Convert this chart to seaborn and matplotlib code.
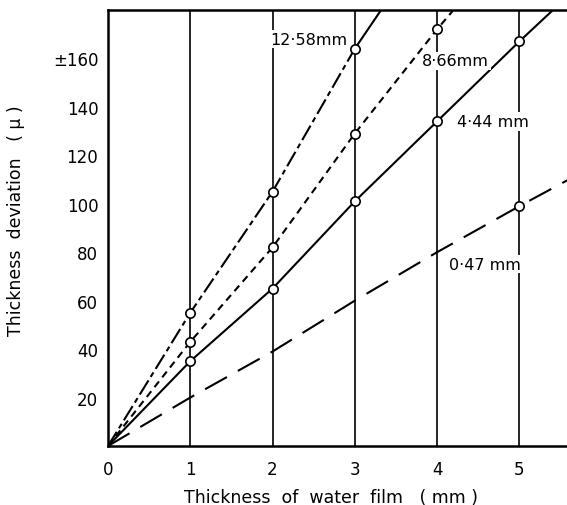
import matplotlib
matplotlib.use("Agg")
import matplotlib.pyplot as plt
import seaborn as sns
import pandas as pd

# ---- data ----
# 12.58 mm film series
x_1258 = [0, 1, 2, 3]
y_1258 = [0, 55, 105, 164]
x_1258_end = [3, 3.32]
y_1258_end = [164, 180]
# 8.66 mm
x_866 = [0, 1, 2, 3, 4, 4.2]
y_866 = [0, 43, 82, 129, 172, 180]
# 4.44 mm
x_444 = [0, 1, 2, 3, 4, 5, 5.41]
y_444 = [0, 35, 65, 101, 134, 167, 180]
# 0.47 mm
x_047 = [0, 1, 2, 3, 4, 5, 5.6]
y_047 = [0, 20, 39, 60, 80, 99, 110]

# measured (circled) points
mk_x = [1, 2, 3, 1, 2, 3, 4, 1, 2, 3, 4, 5, 5]
mk_y = [55, 105, 164, 43, 82, 129, 172, 35, 65, 101, 134, 167, 99]

series_labels = ["12\u00b758mm", "8\u00b766mm", "4\u00b744 mm", "0\u00b747 mm"]
label_pos_x = [1.97, 3.82, 4.24, 4.14]
label_pos_y = [168, 159, 134, 75]

x_ticks = [0, 1, 2, 3, 4, 5]
y_ticks = [20, 40, 60, 80, 100, 120, 140, 160]
y_ticklabels = ["20", "40", "60", "80", "100", "120", "140", "\u00b1160"]

# ---- build long-form frame ----
rows = []
for name, xs, ys in [("a", x_1258, y_1258), ("b", x_1258_end, y_1258_end),
                     ("c", x_866, y_866), ("d", x_444, y_444), ("e", x_047, y_047)]:
    for i, (xx, yy) in enumerate(zip(xs, ys)):
        rows.append({"seg": name, "x": xx, "y": yy, "order": i})
df = pd.DataFrame(rows)
mk = pd.DataFrame({"x": mk_x, "y": mk_y})

sns.set_theme(style="white")
plt.rcParams["font.family"] = ["DejaVu Sans"]
plt.rcParams["text.color"] = "black"
plt.rcParams["axes.labelcolor"] = "black"
plt.rcParams["xtick.color"] = "black"
plt.rcParams["ytick.color"] = "black"

fig = plt.figure(figsize=(5.67, 5.06), dpi=100)
ax = fig.add_axes([108 / 567, 59 / 506, 459 / 567, 436 / 506])

dashes = {"a": (8, 2, 2.5, 2), "b": "", "c": (3.5, 2.5), "d": "", "e": (12, 6)}
palette = {k: "black" for k in dashes}
sns.lineplot(data=df, x="x", y="y", hue="seg", style="seg", units="seg",
             estimator=None, sort=False, dashes=dashes, palette=palette,
             linewidth=1.5, legend=False, ax=ax, zorder=3)
sns.scatterplot(data=mk, x="x", y="y", s=45, marker="o", facecolor="white",
                edgecolor="black", linewidth=1.2, ax=ax, zorder=5)

for lab, lx, ly in zip(series_labels, label_pos_x, label_pos_y):
    ax.text(lx, ly, lab, ha="left", va="center", fontsize=11.5, zorder=4,
            color="black",
            bbox=dict(boxstyle="square,pad=0.1", fc="white", ec="none"))

ax.set_xlim(0, 5.58)
ax.set_ylim(0, 180)
ax.set_xticks(x_ticks)
ax.set_xticklabels([str(t) for t in x_ticks], fontsize=12)
ax.set_yticks(y_ticks)
ax.set_yticklabels(y_ticklabels, fontsize=12)
ax.tick_params(axis="y", direction="in", length=7, width=1.2, pad=7, colors="black")
ax.tick_params(axis="x", length=0, pad=10, colors="black")
ax.xaxis.grid(True, color="black", linewidth=1.2)
ax.yaxis.grid(False)
ax.set_axisbelow(True)

for side in ["left", "bottom", "top"]:
    ax.spines[side].set_visible(True)
    ax.spines[side].set_color("black")
    ax.spines[side].set_linewidth(1.8)
ax.spines["right"].set_visible(False)

ax.set_xlabel("Thickness  of  water  film   ( mm )", fontsize=12.5,
              labelpad=7, x=0.485, color="black")
ax.set_ylabel("Thickness  deviation   ( \u03bc )", fontsize=12.5,
              labelpad=20, y=0.52, color="black")
ax.set_facecolor("white")

fig.savefig("out.png", dpi=100, facecolor="white")
